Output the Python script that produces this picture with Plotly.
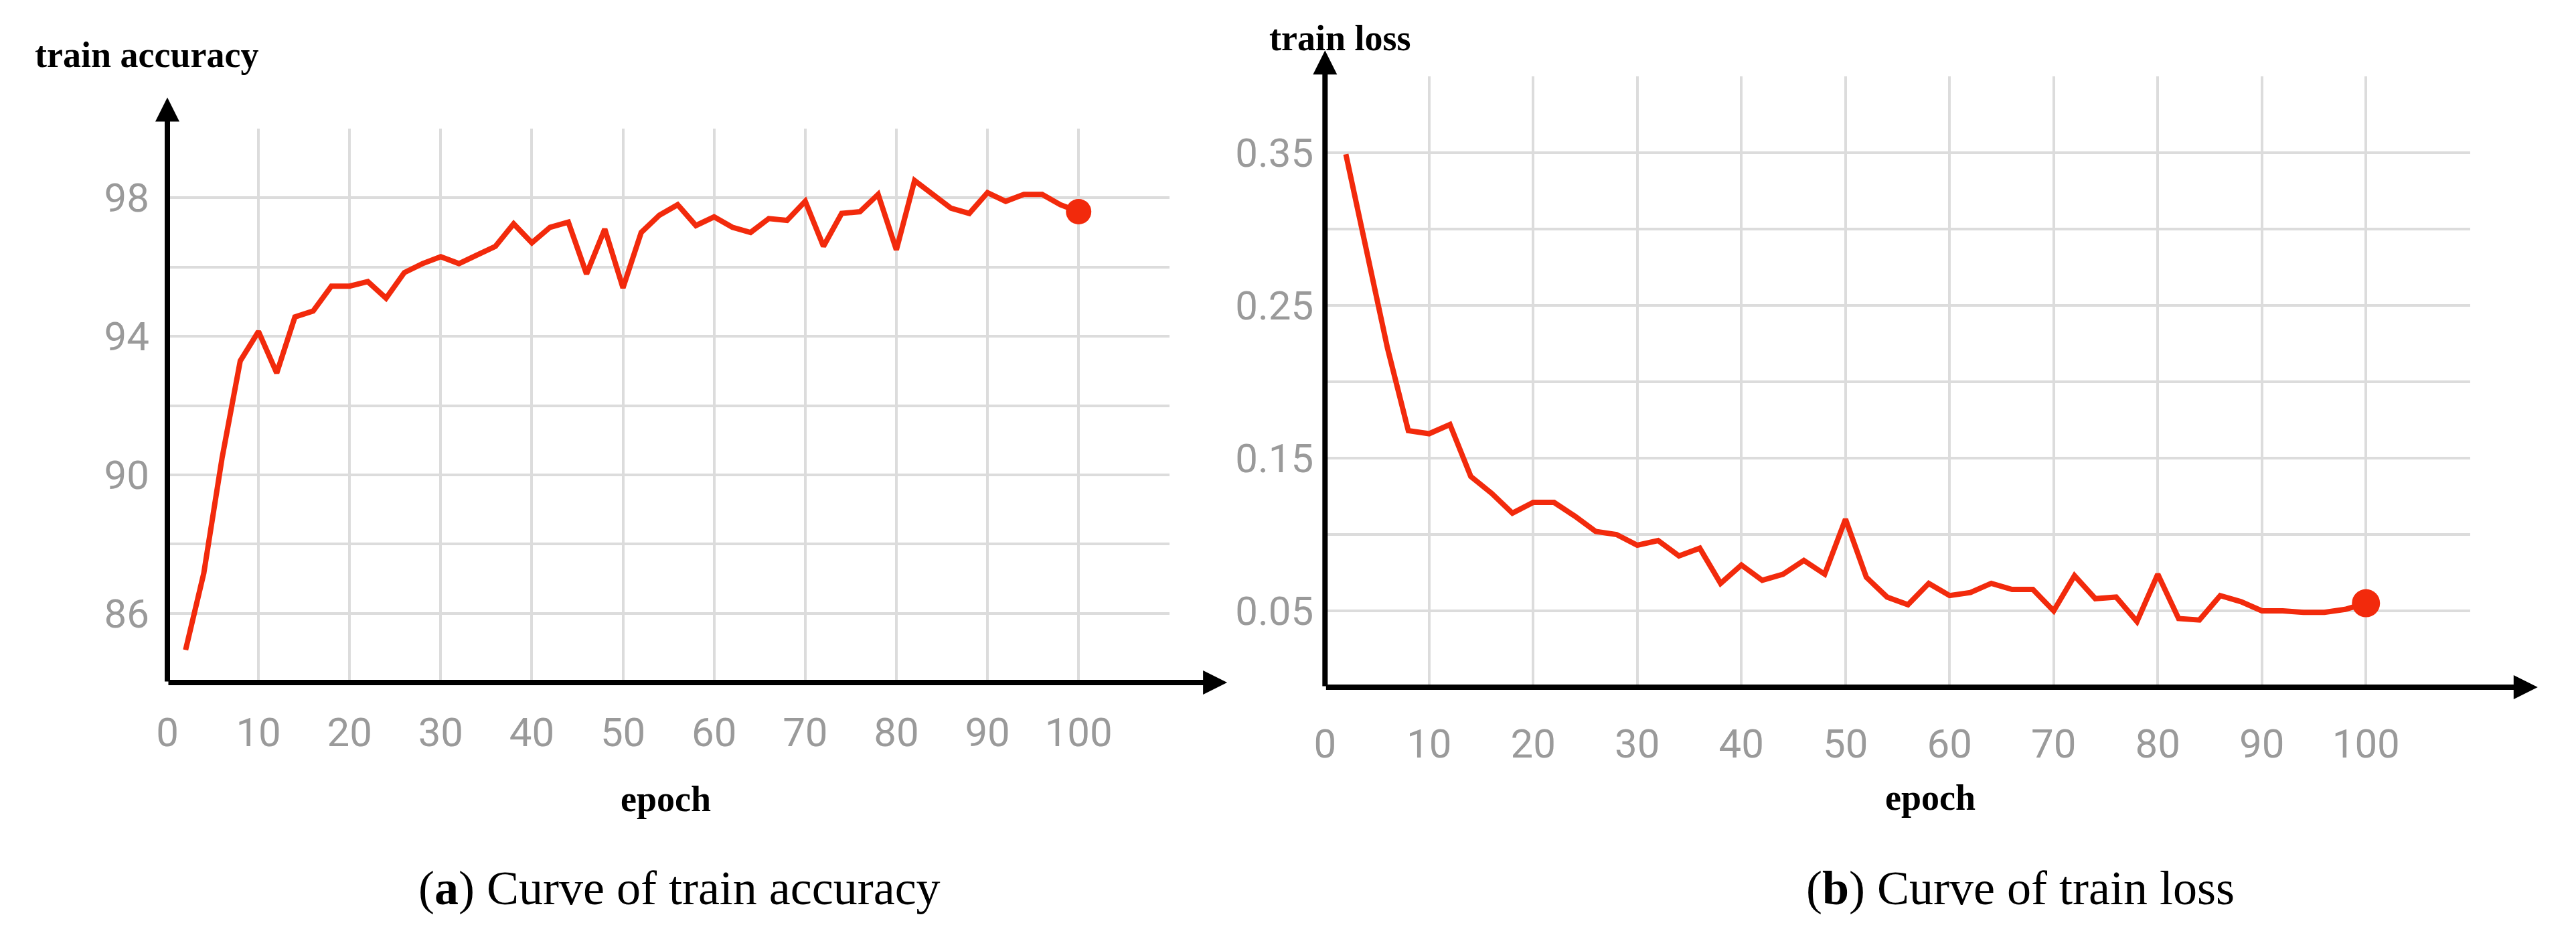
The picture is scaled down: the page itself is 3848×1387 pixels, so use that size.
import plotly.graph_objects as go

epochs = list(range(2, 101, 2))
accuracy = [84.94, 87.16, 90.48, 93.29, 94.14, 92.94, 94.56, 94.73, 95.45, 95.45,
            95.58, 95.1, 95.84, 96.1, 96.3, 96.1, 96.35, 96.6, 97.25, 96.7,
            97.15, 97.3, 95.8, 97.1, 95.4, 97.0, 97.5, 97.8, 97.2, 97.45,
            97.15, 97.0, 97.4, 97.35, 97.9, 96.6, 97.55, 97.6, 98.1, 96.5,
            98.5, 98.1, 97.7, 97.55, 98.15, 97.9, 98.1, 98.1, 97.8, 97.6]
loss = [0.349, 0.286, 0.222, 0.168, 0.166, 0.172, 0.138, 0.127, 0.114, 0.121,
        0.121, 0.112, 0.102, 0.100, 0.093, 0.096, 0.086, 0.091, 0.068, 0.080,
        0.070, 0.074, 0.083, 0.074, 0.110, 0.072, 0.059, 0.054, 0.068, 0.060,
        0.062, 0.068, 0.064, 0.064, 0.050, 0.073, 0.058, 0.059, 0.043, 0.074,
        0.045, 0.044, 0.060, 0.056, 0.050, 0.050, 0.049, 0.049, 0.051, 0.055]

x_ticks = list(range(0, 111, 10))
x_labels = [str(v) for v in range(0, 101, 10)] + [""]
acc_ticks = list(range(84, 101, 2))
acc_labels = [str(v) if v in (86, 90, 94, 98) else "" for v in acc_ticks]
loss_ticks = [round(0.05 * i, 2) for i in range(0, 9)]
loss_labels = ["{:.2f}".format(v) if v in (0.05, 0.15, 0.25, 0.35) else "" for v in loss_ticks]

W, H = 3848, 1387
RED = "#f22a0c"

fig = go.Figure()
fig.add_trace(go.Scatter(x=epochs, y=accuracy, mode="lines", line=dict(color=RED, width=8),
                         xaxis="x", yaxis="y", showlegend=False))
fig.add_trace(go.Scatter(x=[epochs[-1]], y=[accuracy[-1]], mode="markers",
                         marker=dict(color=RED, size=38), xaxis="x", yaxis="y",
                         showlegend=False, cliponaxis=False))
fig.add_trace(go.Scatter(x=epochs, y=loss, mode="lines", line=dict(color=RED, width=8),
                         xaxis="x2", yaxis="y2", showlegend=False))
fig.add_trace(go.Scatter(x=[epochs[-1]], y=[loss[-1]], mode="markers",
                         marker=dict(color=RED, size=42), xaxis="x2", yaxis="y2",
                         showlegend=False, cliponaxis=False))

tickfont = dict(family="Roboto", size=60, color="#9a9a9a")
common = dict(showgrid=True, gridcolor="#dcdcdc", gridwidth=4, zeroline=False,
              showline=False, ticks="", tickfont=tickfont)

fig.update_layout(
    width=W, height=H, paper_bgcolor="white", plot_bgcolor="white",
    margin=dict(l=0, r=0, t=0, b=0),
    xaxis=dict(domain=[226 / W, 1730 / W], range=[0, 110], tickvals=x_ticks,
               ticktext=x_labels, anchor="y", ticklabelstandoff=34, **common),
    yaxis=dict(domain=[1 - 1011 / H, 1 - 184 / H], range=[84, 100], tickvals=acc_ticks,
               ticktext=acc_labels, anchor="x", ticklabelstandoff=26, **common),
    xaxis2=dict(domain=[1963 / W, 3681 / W], range=[0, 110], tickvals=x_ticks,
                ticktext=x_labels, anchor="y2", ticklabelstandoff=44, **common),
    yaxis2=dict(domain=[1 - 1018 / H, 1 - 106 / H], range=[0, 0.4], tickvals=loss_ticks,
                ticktext=loss_labels, anchor="x2", ticklabelstandoff=16, **common),
)

def arrow(xref, yref, x0, y0, x1, y1):
    fig.add_annotation(x=x1, y=y1, ax=x0, ay=y0, xref=xref, yref=yref, axref=xref,
                       ayref=yref, showarrow=True, arrowhead=2, arrowsize=0.9,
                       arrowwidth=8, arrowcolor="black", text="")

arrow("x", "y", 0, 84, 0, 100.9)
arrow("x", "y", 0, 84, 116.3, 84)
arrow("x2", "y2", 0, 0, 0, 0.417)
arrow("x2", "y2", 0, 0, 116.5, 0)

serif_b = dict(family="Liberation Serif", size=54, color="black")
def text(t, x, y, font, xanchor="center"):
    fig.add_annotation(text=t, x=x / W, y=1 - y / H, xref="paper", yref="paper",
                       showarrow=False, font=font, xanchor=xanchor, yanchor="middle")

text("<b>train accuracy</b>", 25, 74, serif_b, "left")
text("<b>epoch</b>", 974, 1185, serif_b)
text("<b>train loss</b>", 1877, 49, serif_b, "left")
text("<b>epoch</b>", 2871, 1183, serif_b)
cap = dict(family="Liberation Serif", size=72, color="black")
text("(<b>a</b>) Curve of train accuracy", 994, 1318, cap)
text("(<b>b</b>) Curve of train loss", 3006, 1318, cap)

fig.write_html("out.html")
